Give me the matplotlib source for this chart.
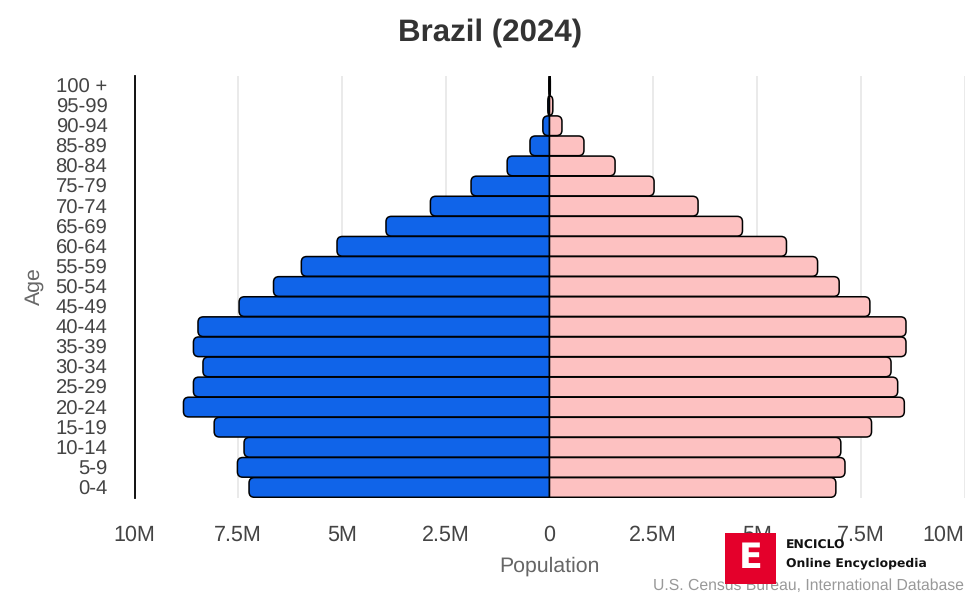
import matplotlib
matplotlib.use("Agg")
import matplotlib.pyplot as plt
from matplotlib.patches import PathPatch, Rectangle
from matplotlib.path import Path

plt.rcParams['font.family'] = ['Liberation Sans', 'DejaVu Sans']
plt.rcParams['text.hinting'] = 'none'

age_groups = ["0-4","5-9","10-14","15-19","20-24","25-29","30-34","35-39","40-44","45-49",
              "50-54","55-59","60-64","65-69","70-74","75-79","80-84","85-89","90-94","95-99","100 +"]
male = [7.24,7.52,7.36,8.08,8.82,8.58,8.35,8.58,8.47,7.48,6.65,5.98,5.12,3.94,2.87,1.89,1.02,0.47,0.16,0.04,0.01]
female = [6.90,7.12,7.02,7.76,8.55,8.39,8.23,8.59,8.59,7.72,6.98,6.46,5.71,4.65,3.58,2.52,1.58,0.83,0.30,0.08,0.02]
x_ticks = [-10,-7.5,-5,-2.5,0,2.5,5,7.5,10]
x_tick_labels = ["10M","7.5M","5M","2.5M","0","2.5M","5M","7.5M","10M"]

W, H = 980, 600
fig = plt.figure(figsize=(W/100, H/100), dpi=100, facecolor="white")
L, R, T, B = 134.5, 964.5, 75.5, 497.5
ax = fig.add_axes([L/W, 1-B/H, (R-L)/W, (B-T)/H])
ax.set_xlim(-10, 10)
ax.set_ylim(-0.5, 20.5)


def rounded_bar(y, value, color):
    """Bar from 0 to value, with rounded outer corners."""
    h = 0.49
    sign = 1 if value >= 0 else -1
    rx = min(0.13, abs(value)) * sign
    ry = 0.27
    codes = [Path.MOVETO, Path.LINETO, Path.CURVE3, Path.CURVE3, Path.LINETO,
             Path.CURVE3, Path.CURVE3, Path.LINETO, Path.CLOSEPOLY]
    verts = [(0, y-h), (value-rx, y-h), (value, y-h), (value, y-h+ry), (value, y+h-ry),
             (value, y+h), (value-rx, y+h), (0, y+h), (0, y-h)]
    ax.add_patch(PathPatch(Path(verts, codes), facecolor=color, edgecolor="black",
                           linewidth=1.1, zorder=3, joinstyle="round"))


for i, (m, f) in enumerate(zip(male, female)):
    rounded_bar(i, -m, "#1064E9")
    rounded_bar(i, f, "#FDC1C1")

ax.set_xticks(x_ticks)
ax.set_xticklabels(x_tick_labels, fontsize=15.5, color="#444444")
ax.get_xticklabels()[-1].set_horizontalalignment("right")
ax.set_yticks(range(len(age_groups)))
ax.set_yticklabels(age_groups, fontsize=14.6, color="#444444")
ax.tick_params(axis="both", length=0)
ax.tick_params(axis="x", pad=20)
ax.tick_params(axis="y", pad=19.5)
ax.grid(axis="x", color="#E6E6E6", linewidth=1.2, zorder=0)
ax.set_axisbelow(True)
for s in ("top", "right", "bottom"):
    ax.spines[s].set_visible(False)
ax.spines["left"].set_color("black")
ax.spines["left"].set_linewidth(1.3)
ax.spines["left"].set_zorder(4)


def ftext(px, py, s, **kw):
    return fig.text(px/W, 1-py/H, s, **kw)


ftext(490, 33, "Brazil (2024)", fontsize=22.5, fontweight="bold", color="#333333", ha="center", va="center")
ftext(549, 566.5, "Population", fontsize=15.3, color="#666666", ha="center", va="center")
ftext(34, 286, "Age", fontsize=15.3, color="#666666", ha="center", va="center", rotation=90)
ftext(964, 586, "U.S. Census Bureau, International Database", fontsize=11.3, color="#999999",
      ha="right", va="center", zorder=2)

logo = Rectangle((725/W, 1-584/H), 51/W, 51/H, transform=fig.transFigure,
                 facecolor="#E4002B", edgecolor="none", zorder=6)
fig.add_artist(logo)
ftext(750.5, 558, "E", fontsize=25, fontweight="bold", color="white", family="DejaVu Sans",
      ha="center", va="center", zorder=7)
ftext(786, 546, "ENCICLO", fontsize=8.9, fontweight="bold", color="#111111", family="DejaVu Sans",
      ha="left", va="center", zorder=7)
ftext(786, 563, "Online Encyclopedia", fontsize=8.9, fontweight="bold", color="#111111", family="DejaVu Sans",
      ha="left", va="center", zorder=7)

fig.savefig("out.png", dpi=100)
